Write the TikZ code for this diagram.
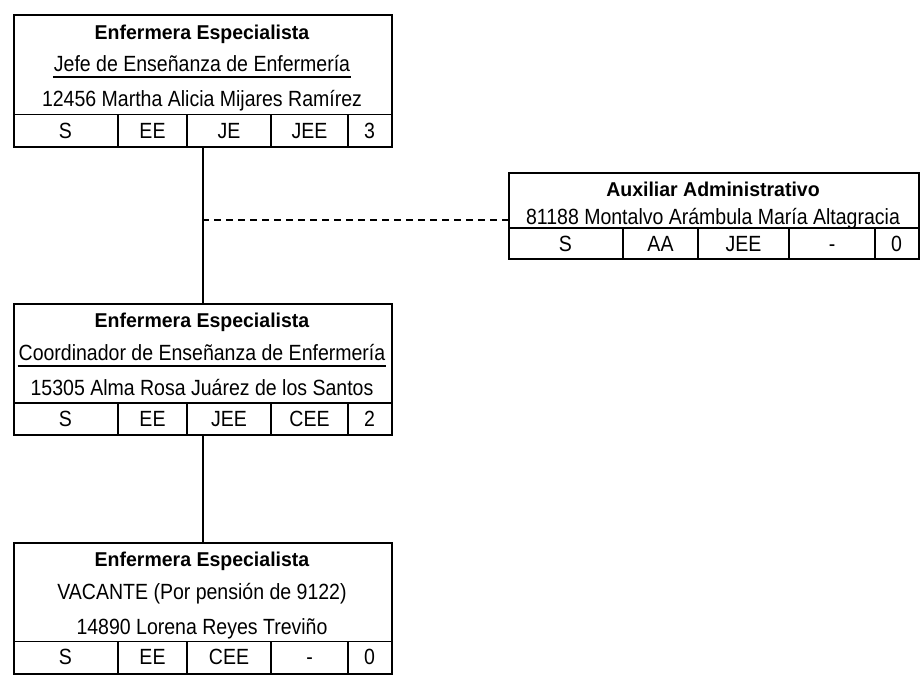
\documentclass[tikz,border=0pt]{standalone}
\usepackage{fontspec}
\setmainfont{Liberation Sans}[FakeStretch=0.887]
\newfontfamily\ttlfont{Liberation Sans}[FakeStretch=0.975]
\begin{document}
\begin{tikzpicture}[x=0.75pt,y=-0.75pt,
  line width=1.4pt,
  frame/.style={draw, line width=1.4pt, inner sep=0pt, anchor=north west},
  txt/.style={inner sep=0pt, text height=11.8pt, text depth=0pt, font=\fontsize{16.5}{19}\selectfont},
  ttl/.style={inner sep=0pt, text height=10.7pt, text depth=0pt, font=\ttlfont\fontsize{15}{18}\selectfont\bfseries},
  uline/.style={line width=1pt},
  conn/.style={line width=1.4pt},
  dconn/.style={line width=1.4pt, dash pattern=on 5.25pt off 3.75pt}]
\useasboundingbox (0,0) rectangle (922,679);
% ---------- box 1 ----------
\node[frame, minimum width=378*0.75pt, minimum height=132*0.75pt] (b1) at (13,14) {};
\node[ttl] (b1t) at (202,32) {Enfermera Especialista};
\node[txt] (b1p) at (202,64) {Jefe de Enseñanza de Enfermería};
\draw[uline] (b1.west |- 0,77) coordinate (u1) (u1 -| b1p.west) -- (u1 -| b1p.east);
\node[txt] (b1n) at (202,99) {12456 Martha Alicia Mijares Ramírez};
\draw (13,114.5) -- (391,114.5);
\foreach \x in {118,187,271,348} \draw (\x,114.5) -- (\x,146);
\node[txt] (b1c1) at (65.5,130.5) {S};
\node[txt] (b1c2) at (152.5,130.5) {EE};
\node[txt] (b1c3) at (229,130.5) {JE};
\node[txt] (b1c4) at (309.5,130.5) {JEE};
\node[txt] (b1c5) at (369.5,130.5) {3};
% ---------- box 2 ----------
\node[frame, minimum width=378*0.75pt, minimum height=131*0.75pt] (b2) at (13,303) {};
\node[ttl] (b2t) at (202,320.5) {Enfermera Especialista};
\node[txt] (b2p) at (202,353) {Coordinador de Enseñanza de Enfermería};
\draw[uline] (b2.west |- 0,366) coordinate (u2) (u2 -| b2p.west) -- (u2 -| b2p.east);
\node[txt] (b2n) at (202,388) {15305 Alma Rosa Juárez de los Santos};
\draw (13,403) -- (391,403);
\foreach \x in {118,187,271,348} \draw (\x,403) -- (\x,434);
\node[txt] (b2c1) at (65.5,418.5) {S};
\node[txt] (b2c2) at (152.5,418.5) {EE};
\node[txt] (b2c3) at (229,418.5) {JEE};
\node[txt] (b2c4) at (309.5,418.5) {CEE};
\node[txt] (b2c5) at (369.5,418.5) {2};
% ---------- box 3 ----------
\node[frame, minimum width=378*0.75pt, minimum height=131*0.75pt] (b3) at (13,542) {};
\node[ttl] (b3t) at (202,559.5) {Enfermera Especialista};
\node[txt] (b3p) at (202,592) {VACANTE (Por pensión de 9122)};
\node[txt] (b3n) at (202,626.5) {14890 Lorena Reyes Treviño};
\draw (13,641.5) -- (391,641.5);
\foreach \x in {118,187,271,348} \draw (\x,641.5) -- (\x,673);
\node[txt] (b3c1) at (65.5,657) {S};
\node[txt] (b3c2) at (152.5,657) {EE};
\node[txt] (b3c3) at (229,657) {CEE};
\node[txt] (b3c4) at (309.5,657) {-};
\node[txt] (b3c5) at (369.5,657) {0};
% ---------- box 4 ----------
\node[frame, minimum width=410*0.75pt, minimum height=86*0.75pt] (b4) at (508,172) {};
\node[ttl] (b4t) at (713,189) {Auxiliar Administrativo};
\node[txt] (b4n) at (713,216.5) {81188 Montalvo Arámbula María Altagracia};
\draw (508,228) -- (918,228);
\foreach \x in {623,698,789,875} \draw (\x,228) -- (\x,258);
\node[txt] (b4c1) at (565.5,243.5) {S};
\node[txt] (b4c2) at (660.5,243.5) {AA};
\node[txt] (b4c3) at (743.5,243.5) {JEE};
\node[txt] (b4c4) at (832,243.5) {-};
\node[txt] (b4c5) at (896.5,243.5) {0};
% ---------- connectors ----------
\coordinate (j) at (202,220);
\draw[conn] (b1.south) -- (b2.north);
\draw[conn] (b2.south) -- (b3.north);
\draw[dconn] (j) -- (j -| b4.west);
\end{tikzpicture}
\end{document}
